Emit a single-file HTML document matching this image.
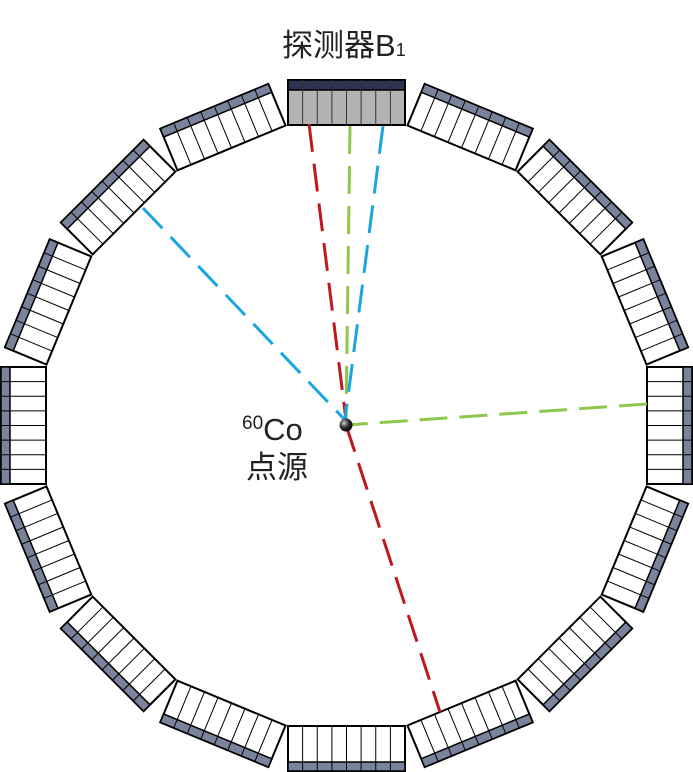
<!DOCTYPE html>
<html><head><meta charset="utf-8"><style>
html,body{margin:0;padding:0;background:#fff;}
svg{display:block}
text{font-family:"Liberation Sans","Noto Sans CJK SC",sans-serif;fill:#222}
</style></head><body>
<svg width="693" height="772" viewBox="0 0 693 772" xmlns="http://www.w3.org/2000/svg">
<defs>
<g id="mod">
  <rect x="-58.5" y="-345.5" width="117" height="45" fill="#fff" stroke="#000" stroke-width="2"/>
  <rect x="-58.5" y="-345.5" width="117" height="9" fill="#7a839c" stroke="#000" stroke-width="1.5"/>
  <g stroke="#000" stroke-width="1">
    <line x1="-43.9" y1="-345.5" x2="-43.9" y2="-300.5"/>
    <line x1="-29.25" y1="-345.5" x2="-29.25" y2="-300.5"/>
    <line x1="-14.6" y1="-345.5" x2="-14.6" y2="-300.5"/>
    <line x1="0" y1="-345.5" x2="0" y2="-300.5"/>
    <line x1="14.6" y1="-345.5" x2="14.6" y2="-300.5"/>
    <line x1="29.25" y1="-345.5" x2="29.25" y2="-300.5"/>
    <line x1="43.9" y1="-345.5" x2="43.9" y2="-300.5"/>
  </g>
</g>
<radialGradient id="ball" cx="0.35" cy="0.35" r="0.7">
  <stop offset="0" stop-color="#ccc"/><stop offset="0.5" stop-color="#333"/><stop offset="1" stop-color="#000"/>
</radialGradient>
</defs>
<g transform="translate(346.5 425.5)">
  <use href="#mod" transform="rotate(22.5)"/>
  <use href="#mod" transform="rotate(45)"/>
  <use href="#mod" transform="rotate(67.5)"/>
  <use href="#mod" transform="rotate(90)"/>
  <use href="#mod" transform="rotate(112.5)"/>
  <use href="#mod" transform="rotate(135)"/>
  <use href="#mod" transform="rotate(157.5)"/>
  <use href="#mod" transform="rotate(180)"/>
  <use href="#mod" transform="rotate(202.5)"/>
  <use href="#mod" transform="rotate(225)"/>
  <use href="#mod" transform="rotate(247.5)"/>
  <use href="#mod" transform="rotate(270)"/>
  <use href="#mod" transform="rotate(292.5)"/>
  <use href="#mod" transform="rotate(315)"/>
  <use href="#mod" transform="rotate(337.5)"/>
  <g>
    <rect x="-58.5" y="-345.5" width="117" height="45" fill="#b3b3b3" stroke="#000" stroke-width="2"/>
    <rect x="-58.5" y="-345.5" width="117" height="10" fill="#2b3550" stroke="#000" stroke-width="1.5"/>
    <g stroke="#333" stroke-width="1">
      <line x1="-43.9" y1="-345.5" x2="-43.9" y2="-300.5"/>
      <line x1="-29.25" y1="-345.5" x2="-29.25" y2="-300.5"/>
      <line x1="-14.6" y1="-345.5" x2="-14.6" y2="-300.5"/>
      <line x1="0" y1="-345.5" x2="0" y2="-300.5"/>
      <line x1="14.6" y1="-345.5" x2="14.6" y2="-300.5"/>
      <line x1="29.25" y1="-345.5" x2="29.25" y2="-300.5"/>
      <line x1="43.9" y1="-345.5" x2="43.9" y2="-300.5"/>
    </g>
  </g>
</g>
<g fill="none" stroke-width="3" stroke-dasharray="28 12">
  <line x1="309" y1="124" x2="346" y2="420" stroke="#c0181e"/>
  <line x1="346" y1="425" x2="440" y2="712" stroke="#c0181e"/>
  <line x1="350" y1="126" x2="346" y2="420" stroke="#8cc84b"/>
  <line x1="647" y1="404" x2="346" y2="425" stroke="#8cc84b"/>
  <line x1="383" y1="126" x2="345" y2="420" stroke="#1aa6e0"/>
  <line x1="143" y1="208" x2="345" y2="420" stroke="#1aa6e0"/>
</g>
<circle cx="346" cy="425" r="6.5" fill="url(#ball)"/>
<text x="282" y="56" font-size="31">探测器B<tspan font-size="18">1</tspan></text>
<text x="242" y="440" font-size="31"><tspan font-size="19" dy="-11">60</tspan><tspan dy="11">Co</tspan></text>
<text x="246" y="478" font-size="31">点源</text>
</svg>
</body></html>
